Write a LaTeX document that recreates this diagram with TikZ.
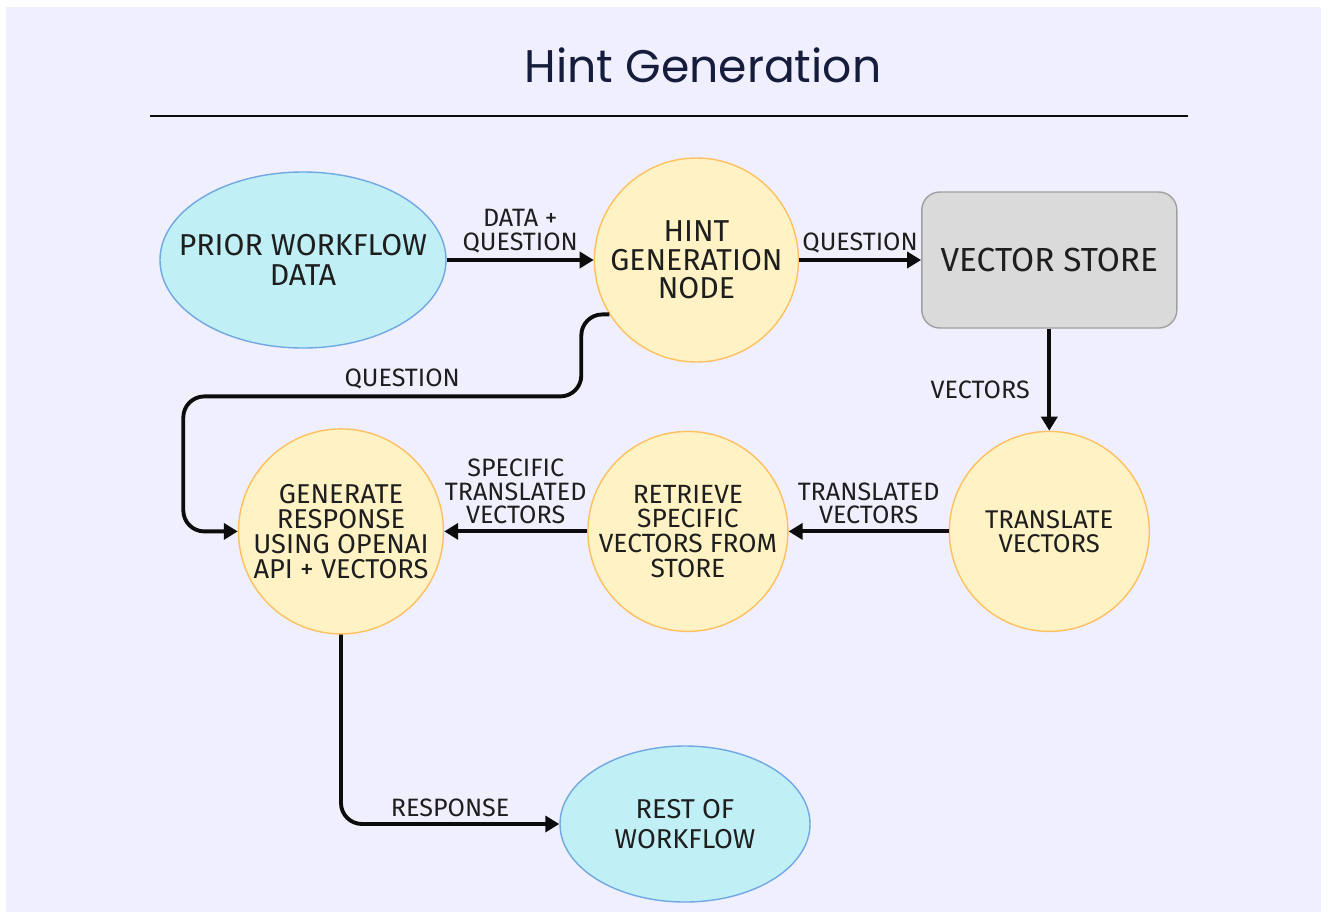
\documentclass[tikz,border=0pt]{standalone}
\usepackage{fontspec}
\setmainfont{Fira Sans}
\newfontfamily\titlefont{Poppins}
\usepackage{tikz}
\usetikzlibrary{shapes.geometric, arrows.meta, positioning, calc}
\definecolor{mybg}{RGB}{240,239,253}
\definecolor{mydark}{RGB}{12,12,12}
\definecolor{mytext}{RGB}{30,30,30}
\definecolor{mytitle}{RGB}{22,28,60}
\definecolor{mycyan}{RGB}{192,240,246}
\definecolor{mycyanline}{RGB}{112,168,228}
\definecolor{myyellow}{RGB}{255,242,196}
\definecolor{myorange}{RGB}{255,192,96}
\definecolor{mygray}{RGB}{218,218,218}
\definecolor{mygrayline}{RGB}{160,160,160}
\tikzset{
  termnode/.style={ellipse, draw=mycyanline, fill=mycyan, line width=0.8pt,
    align=center, text=mytext, inner xsep=-0.5cm, inner ysep=0pt},
  procnode/.style={circle, draw=myorange, fill=myyellow, line width=0.8pt,
    minimum size=4cm, align=center, text=mytext,
    font=\fontsize{15.5}{14.2}\selectfont, inner sep=-4pt},
  storenode/.style={rectangle, draw=mygrayline, fill=mygray, line width=0.8pt,
    minimum width=5.1cm, minimum height=2.72cm, rounded corners=0.36cm,
    text=mytext, font=\fontsize{19}{21}\selectfont},
  arrow/.style={-{Triangle[length=0.28cm, width=0.32cm]}, line width=2.2pt,
    color=mydark, rounded corners=0.42cm},
  lbl/.style={font=\fontsize{14.3}{13.4}\selectfont, text=mytext,
    align=center, inner sep=3pt}
}
\begin{document}
\begin{tikzpicture}
  \useasboundingbox (0,0) rectangle (26.58,-18.38);
  \fill[mybg] (0.12,-0.13) rectangle (26.42,-18.24);

  \node[font=\titlefont\fontsize{26}{28}\selectfont, text=mytitle] (title) at (14.06,-1.3) {Hint Generation};
  \draw[line width=1.4pt, color=mydark] (3.0,-2.32) -- (23.76,-2.32);

  \node[termnode, minimum width=5.72cm, minimum height=3.52cm,
    font=\fontsize{17.2}{17.5}\selectfont] (prior) at (6.06,-5.2) {PRIOR WORKFLOW\\DATA};
  \node[procnode, minimum size=4.08cm, font=\fontsize{17.2}{16.2}\selectfont,
    right=2.94cm of prior] (hint) {HINT\\GENERATION\\NODE};
  \node[storenode, right=2.44cm of hint] (store) {VECTOR STORE};
  \node[procnode, font=\fontsize{14.6}{13.8}\selectfont,
    below=2.04cm of store] (trans) {TRANSLATE\\VECTORS};
  \node[procnode, font=\fontsize{15}{14.1}\selectfont,
    left=3.2cm of trans] (retr) {RETRIEVE\\SPECIFIC\\VECTORS FROM\\STORE};
  \node[procnode, minimum size=4.1cm, left=2.86cm of retr] (gen) {GENERATE\\RESPONSE\\USING OPENAI\\API + VECTORS};
  \node[termnode, minimum width=5.0cm, minimum height=3.12cm,
    font=\fontsize{15.5}{17}\selectfont] (rest) at (13.7,-16.48) {REST OF\\WORKFLOW};

  \draw[arrow] (prior) -- node[lbl, above] {DATA +\\QUESTION} (hint);
  \draw[arrow] (hint) -- node[lbl, above] {QUESTION} (store);
  \draw[arrow] (store) -- node[lbl, left, pos=0.6, inner sep=10pt] {VECTORS} (trans);
  \draw[arrow] (trans) -- node[lbl, above] {TRANSLATED\\VECTORS} (retr);
  \draw[arrow] (retr) -- node[lbl, above] {SPECIFIC\\TRANSLATED\\VECTORS} (gen);
  \draw[arrow] (hint.212) -- ++(-0.56,0) -- ++(0,-1.64)
    -- node[lbl, above, pos=0.45] {QUESTION} ++(-7.96,0) |- (gen.west);
  \draw[arrow] (gen.south) |- node[lbl, above, pos=0.75] {RESPONSE} (rest.west);
\end{tikzpicture}
\end{document}
